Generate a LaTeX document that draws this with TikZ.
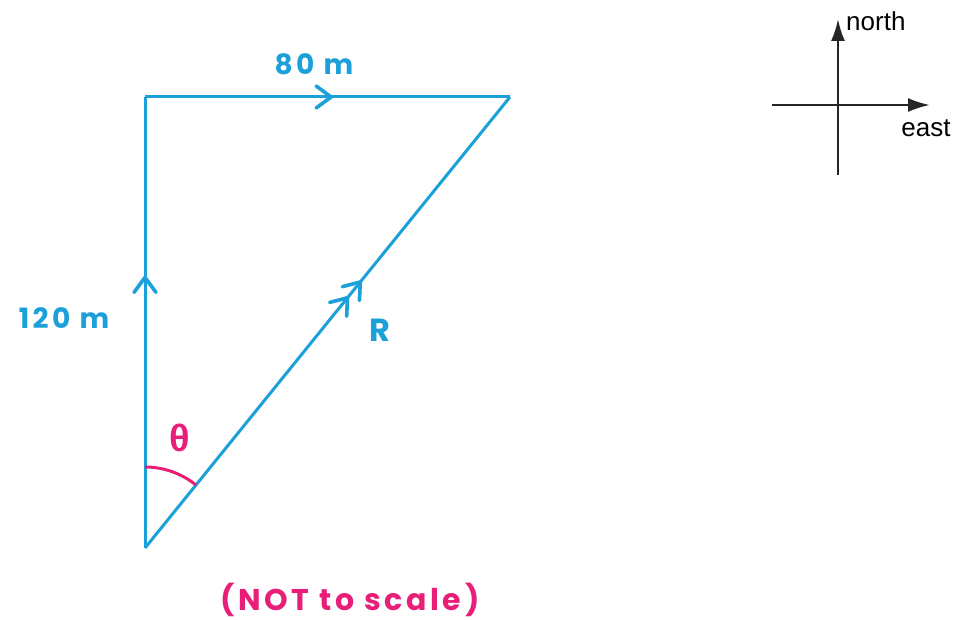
\documentclass[tikz,border=0pt]{standalone}
\usepackage{fontspec}
\setmainfont{Liberation Sans}
\newfontfamily\handfont[LetterSpace=12]{Poppins}
\usetikzlibrary{arrows.meta,decorations.markings,calc}
\definecolor{vecblue}{RGB}{28,160,218}
\definecolor{notepink}{RGB}{232,30,120}
\newcommand{\chev}{\draw[vecblue,line width=3.6pt,line cap=round,line join=round] (-15pt,-11pt) -- (0,0) -- (-15pt,11pt);}
\tikzset{
  vec/.style={vecblue,line width=3pt},
  midarr/.style={postaction={decorate},
    decoration={markings,mark=at position #1 with {\chev}}},
  twoarr/.style={postaction={decorate},
    decoration={markings,
      mark=at position 0.555 with {\chev},
      mark=at position 0.59 with {\chev}}},
  hand/.style={font=\handfont\bfseries\fontsize{28}{32}\selectfont,inner sep=0pt},
  axis/.style={-{Latex[length=22pt,width=14pt]},line width=2.4pt,black!85},
  lbl/.style={font=\fontsize{26}{30}\selectfont,inner sep=1pt},
}
\begin{document}
\begin{tikzpicture}[x=1pt,y=1pt]
\useasboundingbox (0,0) rectangle (959,620);

% vector triangle
\coordinate (bot) at (145,72);
\coordinate (tl)  at (145,523);
\coordinate (tr)  at (510,523);

\draw[vec,midarr=0.6]   (bot) -- (tl);
\draw[vec,midarr=0.51]  (tl) -- (tr);
\draw[vec,twoarr]       (bot) -- (tr);

\node[hand,vecblue] (d80)  at (314,556) {80 m};
\node[hand,vecblue] (d120) at (64,302)  {120 m};
\node[hand,vecblue,font=\handfont\bfseries\fontsize{32}{36}\selectfont] (res) at (380,290) {R};

% angle
\draw[notepink,line width=3pt] (bot) ++(90:81pt) arc[start angle=90,end angle=51,radius=81pt];
\node[notepink,font=\bfseries\fontsize{38}{42}\selectfont] (theta) at (180,182) {θ};

\node[hand,notepink,font=\handfont\bfseries\fontsize{30}{34}\selectfont] (note) at (350,20) {(NOT to scale)};

% compass
\coordinate (ctr) at (838,515);
\coordinate (nn)  at (838,601);
\coordinate (ss)  at (838,445);
\coordinate (ww)  at (772,515);
\coordinate (ee)  at (930,515);
\draw[axis] (ss) -- (nn);
\draw[axis] (ww) -- (ee);
\node[lbl,anchor=west] (north) at (845,599) {north};
\node[lbl] (east) at (926,492) {east};

\end{tikzpicture}
\end{document}
